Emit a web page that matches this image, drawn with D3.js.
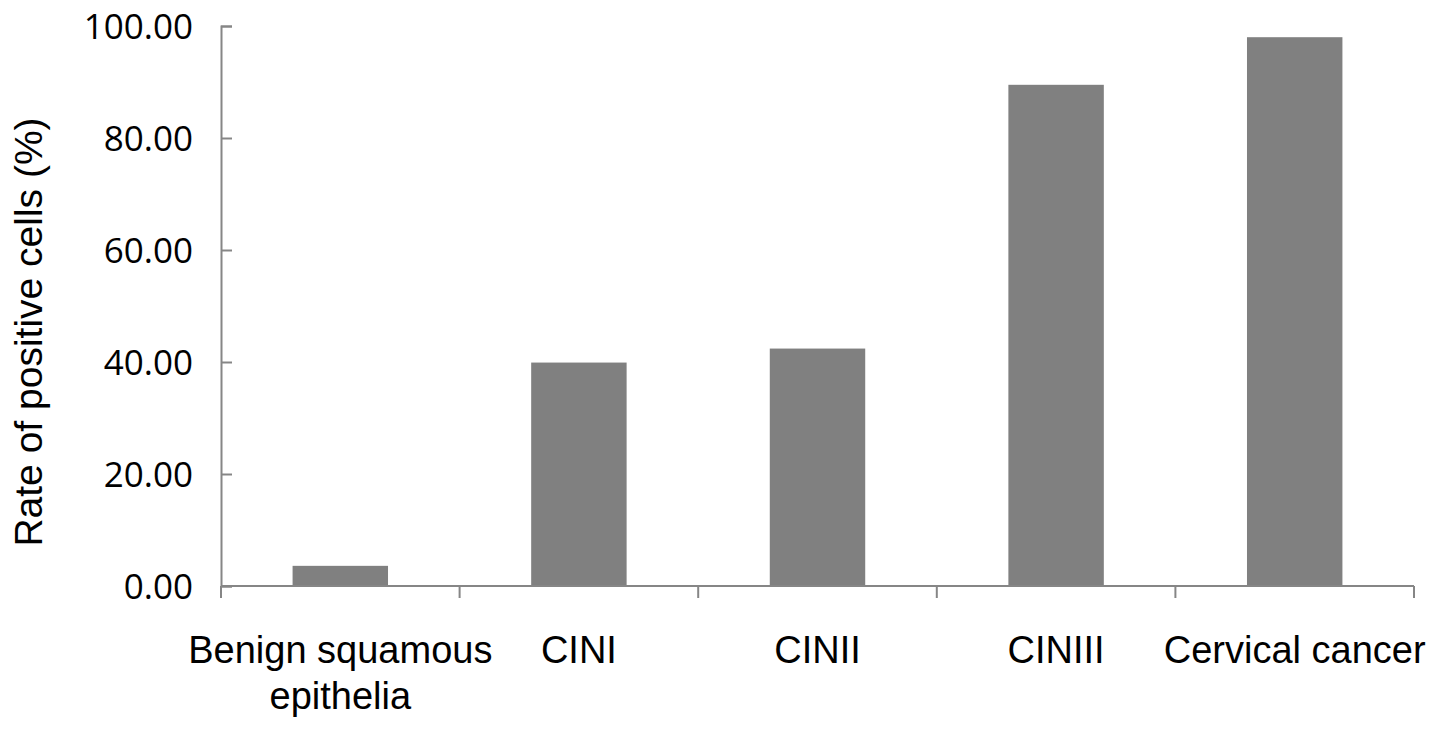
<!DOCTYPE html>
<html>
<head>
<meta charset="utf-8">
<script src="https://cdn.jsdelivr.net/npm/d3@7"></script>
<style>
  body { margin: 0; background: #fff; }
  .ytick text { font-family: "Open Sans", sans-serif; font-size: 35px; fill: #000; }
  .cat text { font-family: "Liberation Sans", Arial, sans-serif; font-size: 38px; fill: #000; }
</style>
</head>
<body>
<div id="chart"></div>
<script>
var svgWidth = 1441;
var svgHeight = 732;

// data
var categories = ["Benign squamous|epithelia", "CINI", "CINII", "CINIII", "Cervical cancer"];
var rates = [3.6, 39.9, 42.4, 89.5, 98.0];
var yTicks = [0, 20, 40, 60, 80, 100];

var chartMargin = { top: 26, right: 27, bottom: 146, left: 221 };
var chartWidth = svgWidth - chartMargin.left - chartMargin.right;
var chartHeight = svgHeight - chartMargin.top - chartMargin.bottom;

var svg = d3.select("#chart")
  .append("svg")
  .attr("width", svgWidth)
  .attr("height", svgHeight);

var chartGroup = svg.append("g")
  .attr("transform", `translate(${chartMargin.left}, ${chartMargin.top})`);

var xScale = d3.scaleBand()
  .domain(categories)
  .range([0, chartWidth])
  .padding(0);

var yScale = d3.scaleLinear()
  .domain([0, 100])
  .range([chartHeight, 0]);

var axisColor = "#868686";

// bars
var barWidth = xScale.bandwidth() * 0.4;
chartGroup.selectAll(".bar")
  .data(rates)
  .enter()
  .append("rect")
  .attr("class", "bar")
  .attr("x", (d, i) => xScale(categories[i]) + (xScale.bandwidth() - barWidth) / 2)
  .attr("y", d => yScale(d))
  .attr("width", barWidth)
  .attr("height", d => chartHeight - yScale(d))
  .attr("fill", "#808080");

// y axis: ticks point inward
var yAxis = chartGroup.append("g")
  .attr("class", "ytick")
  .call(d3.axisRight(yScale).tickValues(yTicks).tickSize(11).tickFormat(d3.format(".2f")));
yAxis.select(".domain").attr("stroke", axisColor).attr("stroke-width", 2);
yAxis.selectAll(".tick line").attr("stroke", axisColor).attr("stroke-width", 2);
yAxis.selectAll(".tick text")
  .attr("x", -28)
  .attr("dy", "0.35em")
  .attr("text-anchor", "end");

// x axis: ticks at band edges
var edges = categories.map(c => xScale(c)).concat([chartWidth]);
var xAxisG = chartGroup.append("g")
  .attr("transform", `translate(0, ${chartHeight})`);
xAxisG.append("line")
  .attr("x1", 0).attr("x2", chartWidth)
  .attr("stroke", axisColor).attr("stroke-width", 2);
xAxisG.selectAll(".xt")
  .data(edges)
  .enter()
  .append("line")
  .attr("class", "xt")
  .attr("x1", d => d).attr("x2", d => d)
  .attr("y1", 0).attr("y2", 12)
  .attr("stroke", axisColor).attr("stroke-width", 2);

var catLabels = xAxisG.append("g").attr("class", "cat")
  .selectAll("text")
  .data(categories)
  .enter()
  .append("text")
  .attr("text-anchor", "middle")
  .attr("x", d => xScale(d) + xScale.bandwidth() / 2)
  .attr("y", 77);
catLabels.each(function(d) {
  var parts = d.split("|");
  var t = d3.select(this);
  parts.forEach(function(p, i) {
    t.append("tspan")
      .attr("x", xScale(d) + xScale.bandwidth() / 2)
      .attr("dy", i === 0 ? 0 : 46)
      .text(p);
  });
});

// y title
svg.append("text")
  .attr("transform", "translate(42, 332) rotate(-90)")
  .attr("text-anchor", "middle")
  .style("font-family", "'Liberation Sans', Arial, sans-serif")
  .style("font-size", "39px")
  .text("Rate of positive cells (%)");
</script>
</body>
</html>
